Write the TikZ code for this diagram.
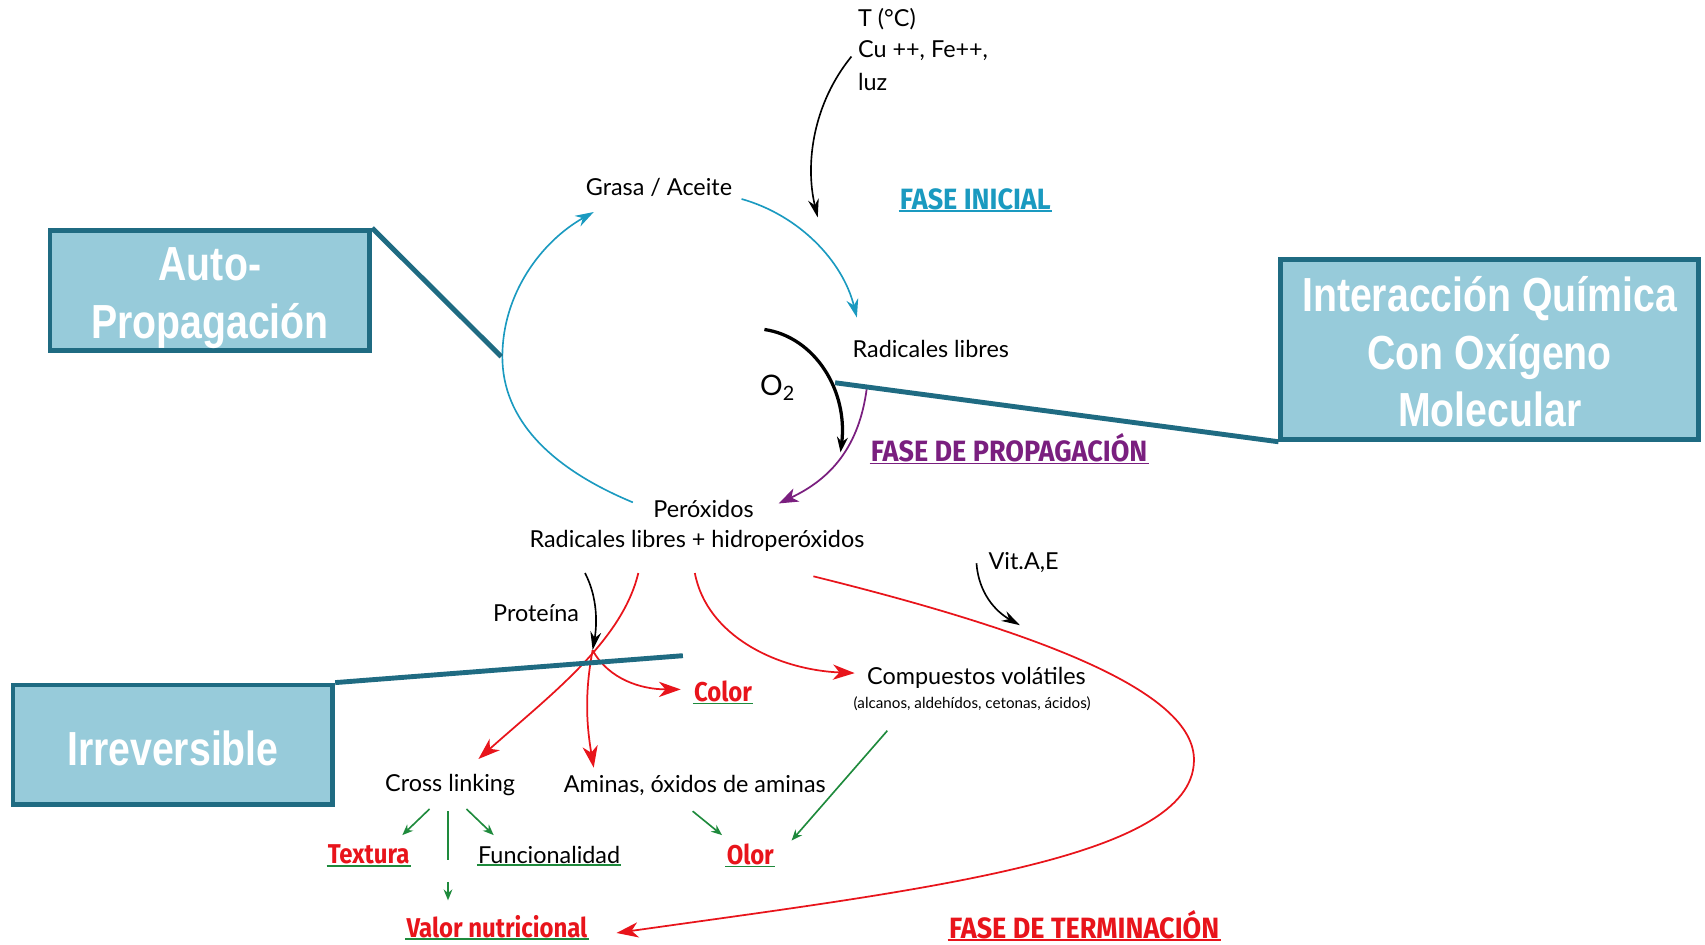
\documentclass[tikz,border=0pt]{standalone}
\usepackage{fontspec}
\setmainfont{Lato}
\newfontfamily\boxfont[FakeStretch=0.82]{Liberation Sans}
\newfontfamily\labfont[FakeStretch=0.92]{Fira Sans}
\newfontfamily\labfontb[FakeStretch=0.88]{Fira Sans}
\usetikzlibrary{arrows.meta,calc}
\definecolor{boxfill}{HTML}{97CBDA}
\definecolor{boxline}{HTML}{1F6B82}
\definecolor{cyanA}{HTML}{1A9AC0}
\definecolor{purp}{HTML}{7A1F7F}
\definecolor{redA}{HTML}{E8141B}
\definecolor{grn}{HTML}{1E8A3C}
\begin{document}
\begin{tikzpicture}[x=1pt,y=-1pt,
  bigbox/.style={draw=boxline, line width=4.5pt, fill=boxfill, inner sep=0pt},
  boxtext/.style={text=white, font=\boxfont\bfseries\fontsize{44}{53}\selectfont, align=center, inner sep=0pt},
  conn/.style={draw=boxline, line width=4.5pt},
  lab/.style={font=\fontsize{21.5}{26}\selectfont, inner sep=1pt},
  fase/.style={font=\labfont\bfseries\fontsize{27}{30}\selectfont, inner sep=1pt},
  blab/.style={font=\labfontb\bfseries\fontsize{25}{28}\selectfont, inner sep=1pt},
  cyarr/.style={draw=cyanA, line width=1.5pt, -{Stealth[length=17pt,width=11pt]}},
  redarr/.style={draw=redA, line width=1.6pt, -{Stealth[length=20pt,width=14pt,inset=6pt]}},
  blkarr/.style={draw=black, line width=1.5pt, -{Stealth[length=17pt,width=10pt]}},
  grnarr/.style={draw=grn, line width=1.5pt, -{Stealth[length=10pt,width=8pt]}},
  ul/.style={draw=#1, line width=1.6pt}
]
\useasboundingbox[fill=white] (0,0) rectangle (1568,869);

% --- boxes ---
\node[bigbox, minimum width=294pt, minimum height=110pt] (ap) at (193,267) {};
\node[boxtext] (apt) at (193,274) {Auto-\\Propagación};
\node[bigbox, minimum width=384pt, minimum height=165pt] (ia) at (1370,321.5) {};
\node[boxtext] (iat) at (1370,323.5) {Interacción Química\\Con Oxígeno\\Molecular};
\node[bigbox, minimum width=294pt, minimum height=110pt] (ir) at (159,685) {};
\node[boxtext] (irt) at (159,688) {Irreversible};

% --- main texts ---
\node[lab] (grasa) at (606,172) {Grasa / Aceite};
\node[lab] (rad) at (856,321) {Radicales libres};
\node[lab] (per) at (647,468) {Peróxidos};
\node[lab] (rlh) at (641,497) {Radicales libres + hidroperóxidos};
\node[lab, anchor=west] (tc) at (788,18) {T (°C)};
\node[lab, anchor=west] (cu) at (788,47) {Cu ++, Fe++,};
\node[lab, anchor=west] (luz) at (788,75) {luz};
\node[font=\fontsize{26}{30}\selectfont, inner sep=1pt] (o2) at (715,357) {O\textsubscript{2}};
\node[lab] (prot) at (493,564) {Proteína};
\node[lab, anchor=west] (vit) at (908,517) {Vit.A,E};
\node[lab] (comp) at (898,623) {Compuestos volátiles};
\node[font=\fontsize{14}{16}\selectfont, inner sep=1pt] (compsub) at (894,647) {(alcanos, aldehídos, cetonas, ácidos)};
\node[lab] (cross) at (414,722) {Cross linking};
\node[lab] (amin) at (639,722) {Aminas, óxidos de aminas};
\node[lab] (func) at (505,786) {Funcionalidad};

% --- bold labels ---
\node[fase, text=cyanA] (fi) at (897,183) {FASE INICIAL};
\node[fase, text=purp] (fp) at (928,412) {FASE DE PROPAGACIÓN};
\node[fase, text=redA] (ft) at (997,850) {FASE DE TERMINACIÓN};
\node[blab, text=redA] (color) at (665,636) {Color};
\node[blab, text=redA] (text) at (339,786) {Textura};
\node[blab, text=redA] (olor) at (690,786) {Olor};
\node[blab, text=redA] (valor) at (457,852) {Valor nutricional};

% underlines
\draw[ul=cyanA] (fi.south west) -- (fi.south east);
\draw[ul=purp] (fp.south west) -- (fp.south east);
\draw[ul=redA] (ft.south west) -- (ft.south east);
\draw[ul=grn] (color.south west) -- (color.south east);
\draw[ul=grn] (text.south west) -- (text.south east);
\draw[ul=grn] (olor.south west) -- (olor.south east);
\draw[ul=grn] (valor.south west) -- (valor.south east);
\draw[ul=grn] (func.south west) -- (func.south east);

% --- cycle ---
\coordinate (cyA) at (682,183);
\coordinate (cyB) at (788,292);
\draw[cyarr] (cyA) .. controls (735,198) and (775,240) .. (cyB);
\coordinate (cyC) at (582,462);
\coordinate (cyL) at (462,328);
\coordinate (cyD) at (546,195);
\draw[cyarr] (cyC) .. controls (505,430) and (462,385) .. (cyL) .. controls (462,270) and (498,222) .. (cyD);

% T arrow
\coordinate (tS) at (783,52);
\coordinate (tE) at (752,200);
\draw[blkarr] (tS) .. controls (748,95) and (740,150) .. (tE);

% O2 arrow
\coordinate (oS) at (703,303);
\coordinate (oE) at (773,416);
\draw[draw=black, line width=3pt, -{Stealth[length=14pt,width=10pt]}] (oS) .. controls (750,310) and (780,360) .. (oE);

% purple arrow
\coordinate (pS) at (797,358);
\coordinate (pE) at (716,463);
\draw[draw=purp, line width=1.6pt, -{Stealth[length=18pt,width=13pt,inset=5pt]}] (pS) .. controls (790,410) and (765,440) .. (pE);

% --- lower part ---
\coordinate (prS) at (538,527);
\coordinate (jn) at (545,598);
\draw[blkarr] (prS) .. controls (550,550) and (549,575) .. (jn);

\coordinate (r1S) at (587,527);
\coordinate (r1E) at (440,698);
\draw[redarr] (r1S) .. controls (572,590) and (505,640) .. (r1E);
\coordinate (r2E) at (546,706);
\draw[redarr] (jn) .. controls (537,640) and (540,670) .. (r2E);
\coordinate (r3E) at (626,634);
\draw[redarr] (jn) .. controls (560,625) and (590,634) .. (r3E);
\coordinate (r4S) at (639,527);
\coordinate (r4E) at (786,619);
\draw[redarr] (r4S) .. controls (650,585) and (715,616) .. (r4E);
\coordinate (r5S) at (748,530);
\coordinate (r5M) at (1098,700);
\coordinate (r5E) at (567,858);
\draw[redarr] (r5S) .. controls (950,580) and (1100,635) .. (r5M) .. controls (1096,790) and (850,818) .. (r5E);

\coordinate (vS) at (898,518);
\coordinate (vE) at (938,575);
\draw[blkarr] (vS) .. controls (900,545) and (915,562) .. (vE);

% green arrows
\coordinate (g1S) at (395,744); \coordinate (g1E) at (370,768);
\draw[grnarr] (g1S) -- (g1E);
\coordinate (g2S) at (412,746); \coordinate (g2E) at (412,828);
\draw[grnarr, dash pattern=on 45pt off 20pt on 30pt] (g2S) -- (g2E);
\coordinate (g3S) at (429,744); \coordinate (g3E) at (454,768);
\draw[grnarr] (g3S) -- (g3E);
\coordinate (g4S) at (637,746); \coordinate (g4E) at (664,768);
\draw[grnarr] (g4S) -- (g4E);
\coordinate (g5S) at (816,672); \coordinate (g5E) at (728,773);
\draw[grnarr] (g5S) -- (g5E);

% --- box connectors ---
\coordinate (apE) at (461,328);
\draw[conn] (ap.north east) -- (apE);
\coordinate (iaE) at (768,352);
\draw[conn] (ia.south west) -- (iaE);
\coordinate (irE) at (628,603);
\draw[conn] (ir.north east) -- (irE);
\end{tikzpicture}
\end{document}
